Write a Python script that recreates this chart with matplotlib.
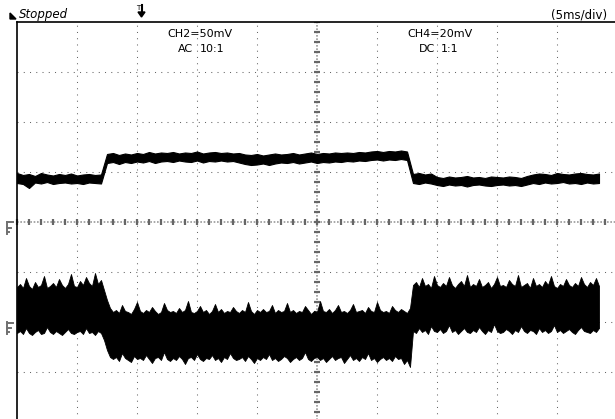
import numpy as np
import matplotlib.pyplot as plt
from matplotlib.patches import Polygon

# scope settings
ms_per_div = 5.0
ch2_mv_per_div = 50.0
ch4_mv_per_div = 20.0
ch2_ground_div = -2.0
ch4_ground_div = 0.0

# sample times (ms from left edge of screen)
t2_ms = np.arange(0, 48.6, 0.25)   # CH2, every 0.25 ms
t4_ms = np.arange(0, 48.6, 0.5)    # CH4, every 0.5 ms

# CH2 (lower, noisy) envelope, mV above its ground marker
ch2_top = [35, 38, 34, 44, 36, 33, 40, 35, 37, 46,
           34, 36, 39, 35, 43, 37, 34, 38, 48, 36,
           35, 41, 37, 45, 39, 36, 49, 38, 42,
           32, 22, 14,
           10, 12, 9, 17, 11, 10, 8, 13, 20, 11,
           9, 12, 10, 15, 11, 8, 10, 19, 12, 10,
           11, 9, 14, 10, 12, 21, 10, 9, 11, 16,
           10, 12, 8, 11, 18, 10, 13, 9, 11, 10,
           15, 11, 9, 12, 10, 20, 11, 8, 12, 10,
           13, 10, 11, 17, 9, 12, 10, 11, 19, 10,
           12, 9, 11, 10, 16, 12, 8, 11, 10, 21,
           11, 10, 13, 9, 12, 17, 10, 11, 9, 12,
           18, 10, 11, 12, 9, 15, 11, 10, 20, 12,
           10, 11, 9, 16, 12, 10, 13, 11, 9, 14,
           37, 40, 35, 44, 36, 38, 34, 46, 37, 35,
           39, 36, 45, 37, 34, 38, 41, 36, 47, 35,
           38, 36, 43, 35, 37, 40, 34, 38, 45, 36,
           37, 35, 42, 38, 36, 47, 35, 37, 39, 34,
           44, 36, 38, 35, 41, 37, 46, 36, 34, 38,
           36, 43, 37, 35, 39, 36, 45, 38, 35, 40,
           37, 44, 36]
ch2_bot = [-11, -9, -12, -6, -11, -13, -10, -8, -12, -11,
           -5, -10, -12, -9, -11, -13, -10, -7, -11, -12,
           -10, -9, -12, -6, -11, -10, -13, -9, -11,
           -18, -28, -35,
           -37, -35, -39, -31, -36, -38, -40, -34, -37, -36,
           -38, -33, -37, -41, -36, -35, -38, -30, -37, -39,
           -36, -38, -34, -37, -42, -36, -35, -38, -32, -37,
           -39, -36, -37, -33, -38, -36, -40, -35, -37, -31,
           -36, -38, -37, -35, -39, -34, -37, -41, -36, -38,
           -35, -37, -32, -38, -36, -39, -37, -34, -36, -40,
           -37, -35, -38, -36, -30, -37, -39, -36, -35, -38,
           -36, -40, -37, -34, -38, -36, -35, -41, -37, -33,
           -38, -36, -39, -35, -37, -31, -38, -36, -40, -37,
           -35, -38, -36, -39, -34, -37, -36, -42, -38, -45,
           -9, -11, -6, -10, -8, -12, -4, -9, -10, -7,
           -11, -9, -3, -10, -8, -12, -9, -6, -10, -11,
           -8, -10, -5, -9, -12, -8, -10, -2, -9, -11,
           -10, -7, -9, -12, -8, -10, -4, -9, -11, -8,
           -9, -12, -6, -10, -8, -11, -9, -3, -10, -8,
           -11, -9, -7, -10, -12, -8, -5, -9, -10, -11,
           -8, -10, -6]

# CH4 (upper, DC) envelope, mV above its ground marker
ch4_top = [19.6, 18.8, 19.2, 18.4, 19.6, 19.0, 18.6, 19.2, 18.8, 19.4, 18.6, 19.0, 19.2, 18.8, 19.0,
           27.2, 27.6, 26.8, 27.4, 27.0, 27.6, 27.2, 28.0, 27.4, 27.8,
           27.6, 28.0, 27.4, 27.8, 27.6, 28.2, 27.4, 27.8, 28.0, 27.6,
           27.8, 27.4, 27.6, 27.0, 26.8, 27.2, 26.6, 27.0, 27.4, 27.0,
           27.2, 27.6, 27.0, 27.4, 27.8, 27.2, 27.6, 27.4, 27.8, 27.6,
           27.8, 27.6, 28.0, 27.8, 28.2, 28.4, 28.0, 28.4, 28.2, 28.6, 28.2,
           19.2, 19.6, 19.0, 19.4,
           18.0, 17.6, 18.2, 17.8, 18.0, 18.4, 17.8, 18.0, 17.6, 18.2, 18.0, 17.8, 18.2, 18.0, 17.6, 18.4,
           19.0, 19.4, 19.2, 18.8, 19.6, 19.2, 19.0, 19.4, 19.6, 19.2, 19.0, 19.4]
ch4_bot = [15.6, 15.2, 13.6, 15.8, 15.4, 16.0, 15.2, 15.6, 15.8, 15.4, 15.6, 15.2, 15.8, 15.6, 15.4,
           23.6, 24.0, 23.2, 24.0, 23.6, 24.2, 23.8, 24.4, 23.6, 24.2,
           24.4, 24.0, 24.6, 24.2, 24.0, 24.6, 23.8, 24.4, 24.2, 24.6,
           24.2, 24.4, 23.8, 23.2, 22.8, 23.0, 23.4, 22.8, 23.4, 23.8,
           23.6, 24.0, 23.4, 23.8, 24.2, 23.6, 24.0, 23.8, 24.2, 24.0,
           24.4, 24.2, 24.6, 24.4, 24.8, 25.0, 24.6, 25.0, 24.8, 25.2, 24.8,
           15.6, 15.2, 15.8, 15.4,
           14.8, 14.4, 15.0, 14.6, 14.8, 14.2, 14.8, 15.0, 14.6, 14.4, 14.8, 15.0, 14.6, 14.8, 14.4, 15.0,
           15.6, 15.2, 15.8, 15.4, 15.6, 16.0, 15.4, 15.6, 15.2, 15.8, 15.4, 15.6]

W, H = 615, 419


def fx(x):
    return x / W


def fy(y):
    return 1 - y / H


fig = plt.figure(figsize=(W / 100, H / 100), dpi=100)
ax = fig.add_axes([fx(17), fy(422), 600 / W, 400 / H])
ax.set_xlim(0, 10 * ms_per_div)
ax.set_ylim(-4, 4)
ax.set_xticks([])
ax.set_yticks([])
for s in ['right', 'bottom']:
    ax.spines[s].set_visible(False)
for s in ['left', 'top']:
    ax.spines[s].set_linewidth(1.2)
    ax.spines[s].set_color('black')

# dotted graticule
grid_kw = dict(color='#666666', lw=0.75, ls=(0, (1, 5)), zorder=1)
for k in range(1, 10):
    if k != 5:
        ax.axvline(k * ms_per_div, **grid_kw)
for k in range(-3, 4):
    if k != 0:
        ax.axhline(k, **grid_kw)

# centre axes with minor ticks
ax.axhline(0, color='#999999', lw=1.2, ls=(0, (1, 1)), zorder=1)
ax.axvline(5 * ms_per_div, color='#999999', lw=1.2, ls=(0, (1, 1)), zorder=1)
hx = np.arange(0, 10.01, 0.2) * ms_per_div
ax.plot(hx, np.zeros_like(hx), ls='none', marker='|', ms=4.5, mew=1.6,
        color='#666666', zorder=1, clip_on=False)
vy = np.arange(-4, 4.01, 0.2)
ax.plot(np.full_like(vy, 5 * ms_per_div), vy, ls='none', marker='_', ms=4.5,
        mew=1.6, color='#666666', zorder=1)

# traces
ch2_hi = np.array(ch2_top) / ch2_mv_per_div + ch2_ground_div
ch2_lo = np.array(ch2_bot) / ch2_mv_per_div + ch2_ground_div
ch4_hi = np.array(ch4_top) / ch4_mv_per_div + ch4_ground_div
ch4_lo = np.array(ch4_bot) / ch4_mv_per_div + ch4_ground_div
ax.fill_between(t2_ms, ch2_lo, ch2_hi, color='black', lw=0.6, zorder=3)
ax.fill_between(t4_ms, ch4_lo, ch4_hi, color='black', lw=0.8, zorder=3)

# ground markers on the left edge
for g in [ch4_ground_div, ch2_ground_div]:
    y0 = 222 - g * 50
    mk = dict(color='#707070', lw=1.4, transform=fig.transFigure, clip_on=False)
    fig.add_artist(plt.Line2D([fx(6.5), fx(13)], [fy(y0 + 0.5), fy(y0 + 0.5)], **mk))
    fig.add_artist(plt.Line2D([fx(7), fx(7)], [fy(y0), fy(y0 + 12)], **mk))
    fig.add_artist(plt.Line2D([fx(7), fx(11)], [fy(y0 + 6), fy(y0 + 6)], **mk))
    fig.add_artist(plt.Line2D([fx(7), fx(9)], [fy(y0 + 10), fy(y0 + 10)], **mk))

# header
fig.add_artist(Polygon([[fx(10), fy(19)], [fx(16), fy(19)], [fx(10), fy(13)]],
                       closed=True, color='black', transform=fig.transFigure))
fig.text(fx(19), fy(18), 'Stopped', fontsize=8.5, style='italic',
         va='baseline', ha='left')
fig.text(fx(607), fy(19), '(5ms/div)', fontsize=8.5, va='baseline', ha='right')

# trigger marker
fig.text(fx(138.5), fy(10), 'T', fontsize=5, va='baseline', ha='center')
fig.add_artist(plt.Line2D([fx(141.5), fx(141.5)], [fy(5), fy(13)], color='black',
                          lw=1.5, transform=fig.transFigure))
fig.add_artist(Polygon([[fx(138), fy(12)], [fx(145), fy(12)], [fx(141.5), fy(17)]],
                       closed=True, color='black', transform=fig.transFigure))

# channel labels
fig.text(fx(200), fy(37), 'CH2=50mV', fontsize=8, va='baseline', ha='center')
fig.text(fx(178), fy(52), 'AC', fontsize=8, va='baseline', ha='left')
fig.text(fx(200), fy(52), '10:1', fontsize=8, va='baseline', ha='left')
fig.text(fx(440), fy(37), 'CH4=20mV', fontsize=8, va='baseline', ha='center')
fig.text(fx(419), fy(52), 'DC', fontsize=8, va='baseline', ha='left')
fig.text(fx(441), fy(52), '1:1', fontsize=8, va='baseline', ha='left')

fig.savefig('out.png', dpi=100, facecolor='white')
